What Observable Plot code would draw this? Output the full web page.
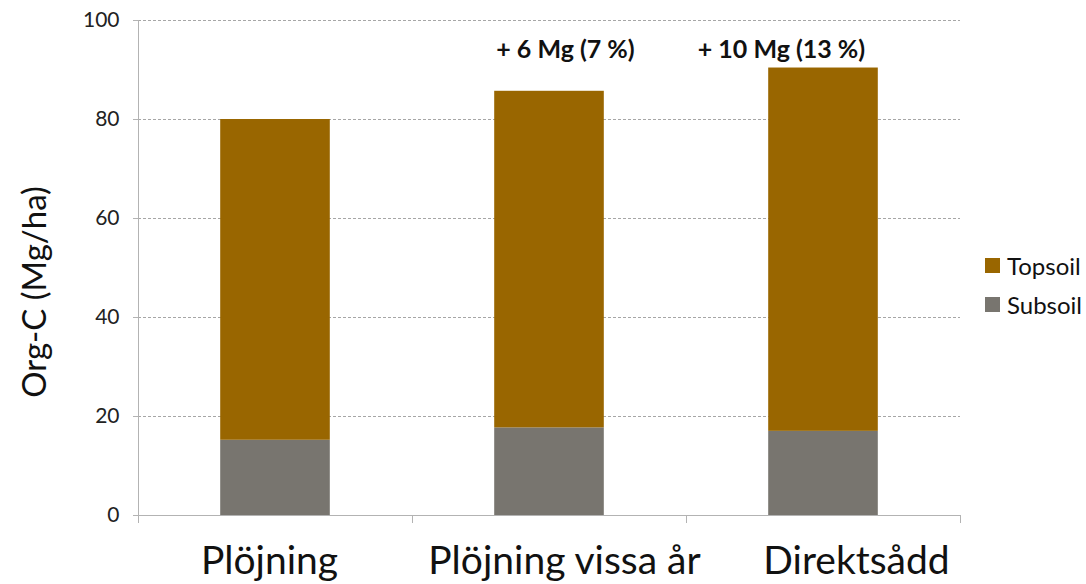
<!DOCTYPE html>
<html>
<head>
<meta charset="utf-8">
<script src="https://cdn.jsdelivr.net/npm/d3@7"></script>
<script src="https://cdn.jsdelivr.net/npm/@observablehq/plot@0.6"></script>
<style>
  html, body { margin: 0; padding: 0; background: #fff; }
  #chart { position: relative; width: 1086px; height: 584px; font-family: Lato, "Open Sans", sans-serif; }
  .legend { position: absolute; left: 985px; top: 254px; font-size: 24px; color: #111; }
  .legend div { display: flex; align-items: center; height: 22px; margin-bottom: 17px; }
  .legend span.sw { display: inline-block; width: 15px; height: 15px; margin-right: 7px; }
</style>
</head>
<body>
<div id="chart"></div>
<script>
// Soil organic carbon stocks per tillage system (Mg/ha)
const categories = ["Plöjning", "Plöjning vissa år", "Direktsådd"];
const subsoil = [15.2, 17.7, 17.0];
const topsoil = [64.8, 68.0, 73.4];
const layers = ["Topsoil", "Subsoil"];
const layerColors = ["#996600", "#78756f"];
const yTicks = [0, 20, 40, 60, 80, 100];
const gainLabels = ["", "+ 6 Mg (7 %)", "+ 10 Mg (13 %)"];

// long table: subsoil rows first so they sit at the bottom of each stack
const rows = [
  ...categories.map((c, i) => ({i, category: c, layer: "Subsoil", value: subsoil[i]})),
  ...categories.map((c, i) => ({i, category: c, layer: "Topsoil", value: topsoil[i]}))
];
const totals = categories.map((c, i) => ({i, total: subsoil[i] + topsoil[i], label: gainLabels[i]}));
const boundaries = d3.range(categories.length + 1).map(k => k - 0.5);

const font = "Lato, 'Open Sans', sans-serif";
const labelDx = [-6, 15, 33];
const gainDx = [0, 16, -42];

const plot = Plot.plot({
  width: 1086,
  height: 584,
  marginLeft: 138,
  marginRight: 126,
  marginTop: 20,
  marginBottom: 69,
  style: {fontFamily: font, background: "#fff"},
  x: {domain: [-0.5, categories.length - 0.5], axis: null},
  y: {domain: [0, 100], axis: null},
  color: {domain: layers, range: layerColors},
  marks: [
    // dashed horizontal gridlines
    Plot.ruleY(yTicks.filter(t => t > 0), {stroke: "#a6a6a6", strokeWidth: 1, strokeDasharray: "3,2"}),
    // value axis
    Plot.axisY({ticks: yTicks, tickSize: 5, tickPadding: 14, fontSize: 21, stroke: "#b3b3b3", color: "#222", label: null}),
    Plot.ruleX([-0.5], {stroke: "#b3b3b3", insetBottom: -8}),
    // category axis: baseline plus separators between categories
    Plot.ruleY([0], {stroke: "#b3b3b3"}),
    Plot.axisX({ticks: boundaries, tickSize: 8, tickFormat: () => "", stroke: "#b3b3b3", label: null}),
    // stacked bars
    Plot.rectY(rows, {x1: d => d.i - 0.2, x2: d => d.i + 0.2, y: "value", fill: "layer", order: null}),
    // gain annotations above bars
    ...totals.filter(d => d.label).map(d =>
      Plot.text([d], {x: "i", y: () => 94, text: "label", dx: gainDx[d.i], fontSize: 25, fontWeight: "bold", fill: "#111"})
    ),
    // category labels
    ...categories.map((c, i) =>
      Plot.text([{i, c}], {x: "i", y: () => 0, text: "c", dy: 46, dx: labelDx[i], fontSize: 39, fill: "#111"})
    ),
    // value axis title
    Plot.text(["Org-C (Mg/ha)"], {frameAnchor: "left", textAnchor: "middle", rotate: -90, dx: -103, dy: 24, fontSize: 33, fill: "#111"})
  ]
});

const chart = document.getElementById("chart");
chart.appendChild(plot);

// legend on the right
const legend = document.createElement("div");
legend.className = "legend";
layers.forEach((l, k) => {
  const row = document.createElement("div");
  row.innerHTML = `<span class="sw" style="background:${layerColors[k]}"></span>${l}`;
  legend.appendChild(row);
});
chart.appendChild(legend);
</script>
</body>
</html>
